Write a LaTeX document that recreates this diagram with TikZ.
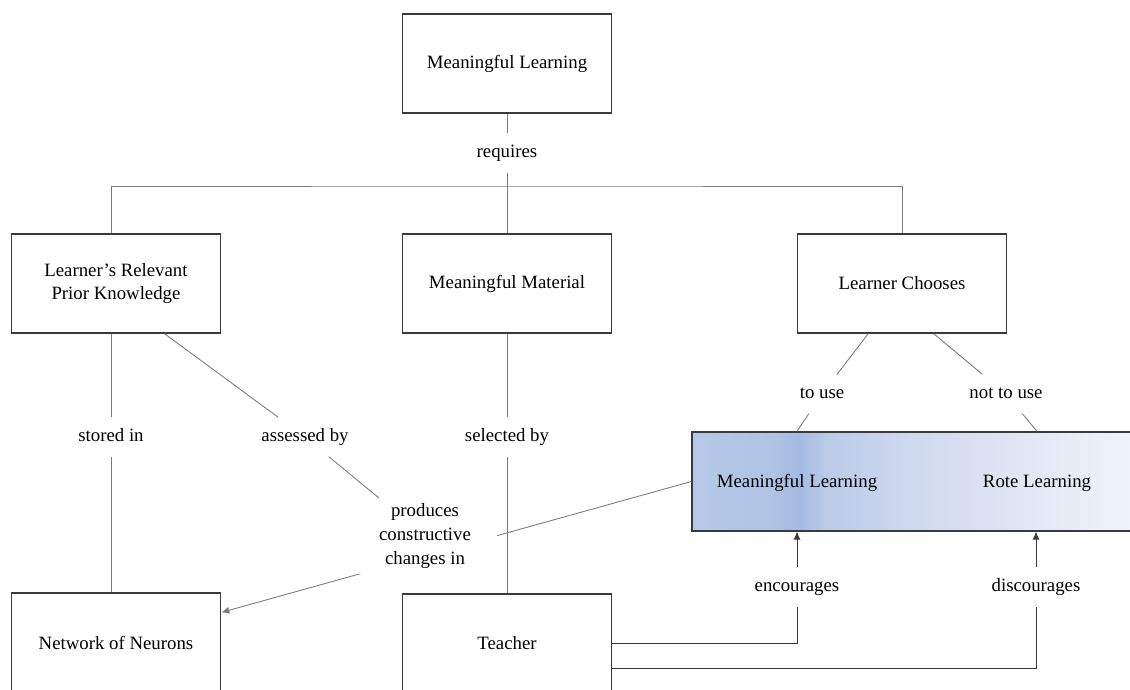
\documentclass[tikz,border=0pt]{standalone}
\usepackage{fontspec}
\setmainfont{Liberation Serif}
\usetikzlibrary{arrows.meta,calc}

\definecolor{lineg}{HTML}{7C7C7C}
\definecolor{darkg}{HTML}{3A3A3A}
\definecolor{sha}{HTML}{B7C8E7}
\definecolor{shb}{HTML}{B0C3E5}
\definecolor{shc}{HTML}{A6BAE1}
\definecolor{shd}{HTML}{BACAE9}
\definecolor{she}{HTML}{D0DAEF}
\definecolor{shf}{HTML}{F0F3FA}
\pgfdeclarehorizontalshading{learnshade}{100bp}{color(0bp)=(sha); color(25bp)=(sha);
	color(33.4bp)=(shb); color(36.3bp)=(shc); color(39bp)=(shd); color(48.4bp)=(she);
	color(71bp)=(shf); color(100bp)=(shf)}

\begin{document}
\begin{tikzpicture}[x=0.02cm, y=-0.02cm, font=\fontsize{10.7}{13.6}\selectfont,
	box/.style={draw=darkg, line width=0.75pt, minimum width=4.19cm, minimum height=1.98cm, align=center},
	lbl/.style={inner xsep=4pt, inner ysep=6pt, text height=7.5pt, text depth=2.5pt},
	conn/.style={draw=lineg, line width=0.5pt},
	tip/.style={-{Latex[length=4.5pt,width=4pt]}}]
		\useasboundingbox (0,0) rectangle (1130,690);
		
		%concept boxes
		\node[box] (ml) at (507,63.5) {Meaningful Learning};
		\node[box] (lrpk) at (116,283.5) {Learner’s Relevant\\Prior Knowledge};
		\node[box] (mm) at (507,283.5) {Meaningful Material};
		\node[box] (lc) at (902,283.5) {Learner Chooses};
		\node[box] (nn) at (116,642.5) {Network of Neurons};
		\node[box] (tc) at (507,643.5) {Teacher};
		\node[box, minimum width=9.56cm, shade, shading=learnshade] (lb) at (931,481.5) {};
		\node (mlt) at (797,483) {Meaningful Learning};
		\node (rlt) at (1037,483) {Rote Learning};
		
		%link labels
		\foreach \nm/\x/\y/\t in {req/507/153/requires, stin/111/437/stored in,
			asb/305/437/assessed by, slb/507/437/selected by, tu/822/394/to use,
			ntu/1006/394/not to use, enc/797/587/encourages, dis/1036/587/discourages}{
			\node[lbl] (\nm) at (\x,\y) {\t};
		}
		
		%requires
		\coordinate (bar) at (507,186);
		\draw[conn] (ml) -- (req) -- (mm);
		\draw[conn] (lrpk.north -| stin) |- (bar) -| (lc.north);
		
		%left and middle branches
		\draw[conn] (lrpk.south -| stin) -- (stin) -- (nn.north -| stin);
		\draw[conn] (mm) -- (slb) -- (tc);
		\draw[conn, tip] (lb.west) -- ($(nn.north east)!0.2!(nn.south east)$);
		\node[fill=white, align=center, inner xsep=0.52cm, inner ysep=3pt] (pcc) at (425,536) {produces\\constructive\\changes in};
		\draw[conn] ($(lrpk.south west)!0.73!(lrpk.south east)$) -- (asb) -- (pcc);
		
		%learner chooses
		\draw[conn] ($(lc.south west)!0.34!(lc.south east)$) -- (tu) -- (lb.north -| mlt);
		\draw[conn] ($(lc.south west)!0.65!(lc.south east)$) -- (ntu) -- (lb.north -| rlt);
		
		%teacher
		\draw[draw=darkg, line width=0.5pt, tip] (tc.east) -| (enc) -- (lb.south -| enc);
		\draw[draw=darkg, line width=0.5pt, tip] ($(tc.north east)!0.75!(tc.south east)$) -| (dis) -- (lb.south -| dis);
\end{tikzpicture}
\end{document}
